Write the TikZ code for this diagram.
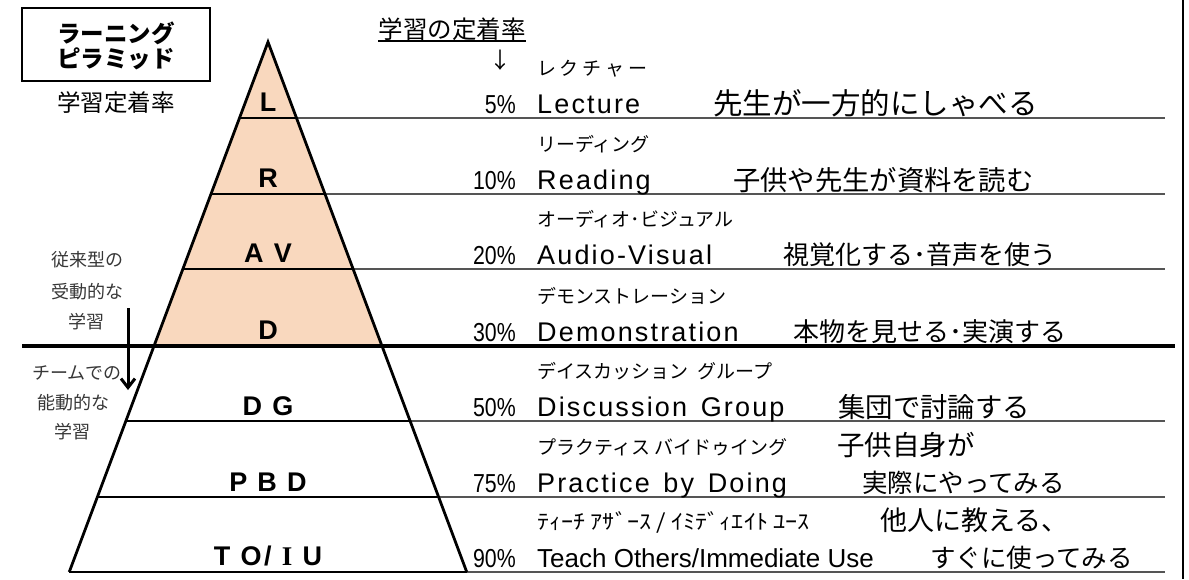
\documentclass[tikz,border=0pt]{standalone}
\usepackage{fontspec}
\setmainfont{Liberation Sans}
\newfontfamily\jp{Noto Sans CJK JP}
\newfontfamily\lat[LetterSpace=8]{Liberation Sans}
\newfontfamily\lvlfont[LetterSpace=10]{Liberation Sans}
\newfontfamily\lvlserif{Liberation Serif}
\usetikzlibrary{arrows.meta,calc}
\definecolor{peach}{RGB}{249,216,190}
\definecolor{sepgray}{RGB}{85,85,85}
\definecolor{lefttext}{RGB}{55,55,55}
\newcommand{\hsc}[2]{\scalebox{#1}[1]{#2}}
\tikzset{
  en/.style={anchor=base west, inner sep=0pt, font=\lat\fontsize{27}{27}\selectfont},
  pct/.style={anchor=base east, inner sep=0pt, font=\fontsize{26}{26}\selectfont},
  kana/.style={anchor=base west, inner sep=0pt, font=\jp\fontsize{19}{19}\selectfont},
  desc/.style={anchor=base west, inner sep=0pt, font=\jp\fontsize{#1}{#1}\selectfont},
  desc/.default=25.5,
  lvl/.style={anchor=base, inner sep=0pt, font=\lvlfont\bfseries\fontsize{27}{27}\selectfont},
  side/.style={inner sep=0pt, text=lefttext, font=\jp\fontsize{18}{18}\selectfont},
  sepline/.style={draw=sepgray, line width=1.8pt},
  inline/.style={draw=black, line width=2pt},
}
\begin{document}
\begin{tikzpicture}[x=1pt,y=-1pt]
\useasboundingbox (0,0) rectangle (1189,579);
\fill[white] (0,0) rectangle (1189,579);

% pyramid fill (upper part)
\fill[peach] (268,42) -- (154,346) -- (382,346) -- cycle;

% separators right of pyramid
\draw[sepline] (296.5,118) -- (1165,118);
\draw[sepline] (325,194) -- (1165,194);
\draw[sepline] (353.1,269) -- (1165,269);
\draw[sepline] (410.1,421) -- (1165,421);
\draw[sepline] (438.6,497) -- (1165,497);
\draw[sepline] (466.75,572) -- (1165,572);
% separators inside pyramid
\draw[inline] (239.5,118) -- (296.5,118);
\draw[inline] (211,194) -- (325,194);
\draw[inline] (182.9,269) -- (353.1,269);
\draw[inline] (125.9,421) -- (410.1,421);
\draw[inline] (97.4,497) -- (438.6,497);
\draw[inline] (69.25,572) -- (466.75,572);
% thick divider
\draw[line width=3.5pt] (22,346) -- (1175,346);
% pyramid outline
\coordinate (apex) at (268,42);
\coordinate (bl) at (69.25,572);
\coordinate (br) at (466.75,572);
\draw[line width=2.8pt, line join=miter] (bl) -- (apex) -- (br);

% right border
\draw[line width=2.5pt] (1183,0) -- (1183,579);

% title box
\node[draw, line width=2pt, minimum width=188pt, minimum height=73pt, inner sep=0pt] (titlebox) at (116,44.5) {};
\node[inner sep=0pt, align=center, font=\jp\bfseries\fontsize{23.5}{25}\selectfont] (title) at (116,45.5) {ラーニング\\ピラミッド};
\node[inner sep=0pt, font=\jp\fontsize{23.5}{23.5}\selectfont] (teichaku) at (116,103) {学習定着率};

% header
\node[anchor=base, inner sep=0pt, font=\jp\fontsize{24.5}{24.5}\selectfont] (hdr) at (452,38) {学習の定着率};
\draw[line width=1.5pt] ([yshift=-3pt]hdr.base west) -- ([yshift=-3pt]hdr.base east);
\node[inner sep=0pt, font=\jp\fontsize{22}{22}\selectfont] (down) at (500,60) {↓};

% side labels
\node[side] (s1) at (87,260) {従来型の};
\node[side] (s2) at (87,292) {受動的な};
\node[side] (s3) at (86,322) {学習};
\node[side] (s4) at (77,373) {チームでの};
\node[side] (s5) at (73,403) {能動的な};
\node[side] (s6) at (72,432) {学習};
\coordinate (arS) at (128,308);
\coordinate (arE) at (128,390);
\draw[line width=3pt, -{Straight Barb[length=9pt,width=14pt,line width=3pt]}] (arS) -- (arE);

% pyramid level labels
\node[lvl] (l1) at (268,111) {L};
\node[lvl] (l2) at (268,187) {R};
\node[lvl] (l3) at (268,262) {A V};
\node[lvl] (l4) at (268,339) {D};
\node[lvl] (l5) at (268,415) {D G};
\node[lvl] (l6) at (268,491) {P B D};
\node[lvl] (l7) at (268,565) {T O/ {\lvlserif\bfseries I} U};

% katakana readings
\node[kana] (k1) at (537,75) {\addfontfeature{LetterSpace=20}レクチャー};
\node[kana] (k2) at (537,151) {リーディング};
\node[kana] (k3) at (537,226) {オーディオ･ビジュアル};
\node[kana] (k4) at (537,303) {デモンストレーション};
\node[kana] (k5) at (537,378) {デイスカッション\ \ グループ};
\node[kana] (k6) at (537,454) {プラクティス\ バイドゥイング};
\node[kana] (k7) at (537,529) {\hsc{1.15}{\fontsize{21}{21}\selectfont ﾃｨｰﾁ ｱｻﾞｰｽ / ｲﾐﾃﾞｨｴｲﾄ ﾕｰｽ}};

% percentages
\node[pct] (p1) at (516,113) {\hsc{0.82}{5\%}};
\node[pct] (p2) at (516,189) {\hsc{0.82}{10\%}};
\node[pct] (p3) at (516,264) {\hsc{0.82}{20\%}};
\node[pct] (p4) at (516,341) {\hsc{0.82}{30\%}};
\node[pct] (p5) at (516,416) {\hsc{0.82}{50\%}};
\node[pct] (p6) at (516,492) {\hsc{0.82}{75\%}};
\node[pct] (p7) at (516,567) {\hsc{0.82}{90\%}};

% english names
\node[en] (e1) at (537,113) {Lecture};
\node[en] (e2) at (537,189) {Reading};
\node[en] (e3) at (537,264) {Audio-Visual};
\node[en] (e4) at (537,341) {Demonstration};
\node[en] (e5) at (537,416) {Discussion\hspace{4pt} Group};
\node[en] (e6) at (537,492) {Practice\hspace{4pt} by\hspace{4pt} Doing};
\node[anchor=base west, inner sep=0pt, font=\fontsize{26}{26}\selectfont] (e7) at (537,567) {Teach Others/Immediate Use};

% descriptions
\node[desc=29.5] (d1) at (713,114) {先生が一方的にしゃべる};
\node[desc=27.3] (d2) at (733,190) {子供や先生が資料を読む};
\node[desc=26] (d3) at (783,264) {視覚化する･音声を使う};
\node[desc=26] (d4) at (793,341) {本物を見せる･実演する};
\node[desc=27.4] (d5) at (838,417) {集団で討論する};
\node[desc=27.5] (d6a) at (837,455) {子供自身が};
\node[desc=25.5] (d6b) at (862,492) {実際にやってみる};
\node[desc=27] (d7a) at (880,530) {他人に教える、};
\node[desc=25.5] (d7b) at (930,567) {すぐに使ってみる};
\end{tikzpicture}
\end{document}
